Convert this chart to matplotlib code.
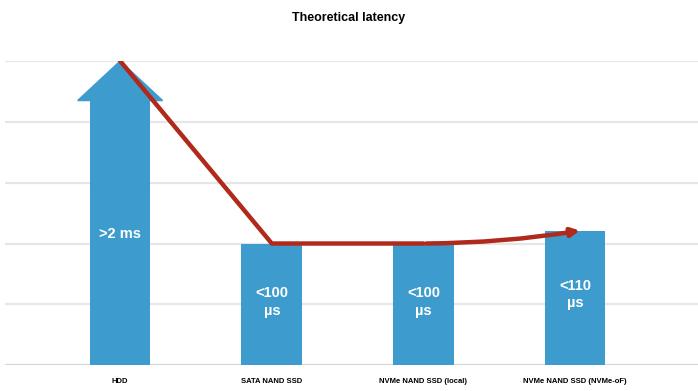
import matplotlib.pyplot as plt
from matplotlib.patches import Polygon

plt.rcParams['font.family'] = ['Liberation Sans', 'DejaVu Sans']

# latency per device class, in microseconds (HDD is off the scale, drawn as an arrow)
categories = ['HDD', 'SATA NAND SSD', 'NVMe NAND SSD (local)', 'NVMe NAND SSD (NVMe-oF)']
latency_us = [250, 100, 100, 110]
bar_labels = ['>2 ms', '<100\nµs', '<100\nµs', '<110\nµs']
grid_step = 50

blue = '#3d9ccd'
red = '#b0291b'

fig = plt.figure(figsize=(6.98, 3.91), dpi=100)
ax = fig.add_axes([0.007, 0.066, 0.993, 0.778])

x = list(range(len(categories)))
width = 0.4

# horizontal grid
for g in range(0, latency_us[0] + 1, grid_step):
    ax.axhline(g, color='#d6d6d6' if g == 0 else '#e6e6e6', lw=1.6, zorder=0)

# HDD: shaft + arrow head, the rest plain bars
head_base = latency_us[0] * 0.87
ax.bar(x[0], head_base, width=width, color=blue, zorder=2)
head = Polygon([(x[0] - 0.28, head_base), (x[0] + 0.28, head_base), (x[0], latency_us[0])],
               closed=True, color=blue, zorder=2)
ax.add_patch(head)
ax.bar(x[1:], latency_us[1:], width=width, color=blue, zorder=2)

# value labels inside the bars
label_y = [108, 52, 52, 58]
for xi, txt, ly in zip(x, bar_labels, label_y):
    ax.text(xi, ly, txt, ha='center', va='center', color='white',
            fontsize=10.5, fontweight='bold', linespacing=1.3, zorder=4)

# trend line over the bar tops
ax.plot(x[:3], latency_us[:3], color=red, lw=3.2, solid_capstyle='round', zorder=3)
ax.annotate('', xy=(x[3] + 0.05, latency_us[3] + 1), xytext=(x[2], latency_us[2]),
            arrowprops=dict(arrowstyle='-|>,head_length=0.5,head_width=0.25',
                            color=red, lw=3.2, connectionstyle='arc3,rad=0.04'),
            zorder=3)

ax.set_xlim(-0.76, 3.81)
ax.set_ylim(0, latency_us[0])
ax.set_xticks(x)
ax.set_xticklabels(categories, fontsize=5.5, fontweight='bold')
ax.tick_params(axis='x', length=0, pad=9)
ax.set_yticks([])
for s in ax.spines.values():
    s.set_visible(False)

fig.text(0.5, 0.953, 'Theoretical latency', ha='center', va='center',
         fontsize=9, fontweight='bold')

fig.savefig('out.png', dpi=100)
